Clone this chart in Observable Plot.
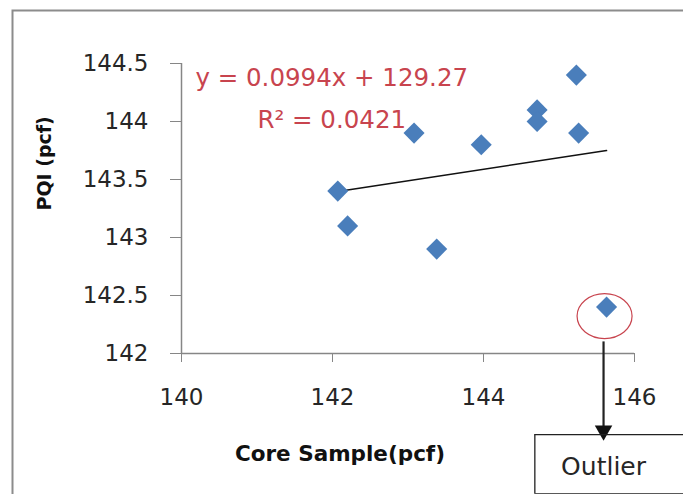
<!DOCTYPE html>
<html>
<head>
<meta charset="utf-8">
<script src="https://cdn.jsdelivr.net/npm/d3@7"></script>
<script src="https://cdn.jsdelivr.net/npm/@observablehq/plot@0.6"></script>
<style>
  html, body { margin: 0; padding: 0; background: #fff; overflow: hidden; }
  #chart { position: absolute; left: 0; top: 0; width: 683px; height: 494px; overflow: hidden; }
</style>
</head>
<body>
<div id="chart"></div>
<script>
// Data
const coreSample = [142.07, 142.2, 143.08, 143.38, 143.97, 144.71, 144.71, 145.23, 145.26, 145.63];
const pqi        = [143.4, 143.1, 143.9, 142.9, 143.8, 144.1, 144.0, 144.4, 143.9, 142.4];
const xTicks = [140, 142, 144, 146];
const yTicks = [142, 142.5, 143, 143.5, 144, 144.5];
const yTickLabels = ["142", "142.5", "143", "143.5", "144", "144.5"];
const equationLines = ["y = 0.0994x + 129.27", "R² = 0.0421"];
const equationY = [144.37, 144.01];
const equationX = [141.99, 141.99];
const xLabel = "Core Sample(pcf)";
const yLabel = "PQI (pcf)";
const outlierIndex = 9;
const outlierText = "Outlier";
// annotation anchors (data units)
const arrowY = [142.1, 141.36];
const arrowHeadY = [141.335];
const boxLeft = 144.68;
const boxRight = 147.2;
const boxTop = 141.3;
const boxBottom = 140.79;
const outlierLabelY = [141.02];

const points = coreSample.map((x, i) => ({x, y: pqi[i]}));
const outlier = points[outlierIndex];
const annX = outlier.x - 0.04;

const red = "#c8444e";
const blue = "#4a7ebb";
const axisGray = "#868686";
const font = "'DejaVu Sans', sans-serif";

const chart = Plot.plot({
  width: 683,
  height: 494,
  marginLeft: 181,
  marginRight: 49,
  marginTop: 63,
  marginBottom: 141,
  x: {domain: [140, 146]},
  y: {domain: [142, 144.5]},
  style: {fontFamily: font, background: "white", overflow: "hidden", color: "#262626"},
  marks: [
    Plot.ruleY([142], {x1: 140, x2: 146, stroke: axisGray, strokeWidth: 1.5}),
    Plot.ruleX([140], {y1: 142, y2: 144.5, stroke: axisGray, strokeWidth: 1.5}),
    Plot.axisX(xTicks, {tickSize: 9, tickPadding: 26, fontSize: 23, stroke: axisGray, fill: "#262626", label: null, tickFormat: d => String(d)}),
    Plot.axisY(yTicks, {tickSize: 11, tickPadding: 22, fontSize: 23, stroke: axisGray, fill: "#262626", label: null, tickFormat: d => yTickLabels[yTicks.indexOf(d)]}),
    Plot.linearRegressionY(points, {x: "x", y: "y", ci: 0, stroke: "#111", strokeWidth: 1.5}),
    Plot.dot(points, {x: "x", y: "y", symbol: "diamond2", r: 9.5, fill: blue, stroke: "none"}),
    Plot.text(equationLines, {x: (d, i) => equationX[i], y: (d, i) => equationY[i], text: d => d, fill: red, fontSize: 24.5, textAnchor: "middle"}),
    // outlier annotation
    Plot.dot([outlier], {x: "x", y: "y", r: 25, dx: -2, dy: 9, stroke: red, strokeWidth: 1.2, fill: "none"}),
    Plot.ruleX([annX], {y1: arrowY[0], y2: arrowY[1], stroke: "#222", strokeWidth: 2.2}),
    Plot.dot(arrowHeadY, {x: () => annX, y: d => d, symbol: "triangle", rotate: 180, r: 6.5, fill: "#111", stroke: "none"}),
    Plot.ruleX([boxLeft], {y1: boxTop, y2: boxBottom, stroke: "#222", strokeWidth: 1.3}),
    Plot.ruleY([boxTop, boxBottom], {x1: boxLeft, x2: boxRight, stroke: "#222", strokeWidth: 1.3}),
    Plot.text([outlierText], {x: annX, y: outlierLabelY[0], text: d => d, fontSize: 25, fill: "#262626"}),
    // axis titles
    Plot.text([yLabel], {frameAnchor: "left", dx: -137, dy: 2, rotate: -90, text: d => d, fontSize: 19, fontWeight: "bold", fill: "#111"}),
    Plot.text([xLabel], {frameAnchor: "bottom", dx: -68, dy: 107, text: d => d, fontSize: 21.5, fontWeight: "bold", fill: "#111"})
  ]
});

// outer chart-area border (left and top visible, the rest runs off the picture)
d3.select(chart).insert("rect", ":first-child")
  .attr("x", 12.5).attr("y", 10.5).attr("width", 900).attr("height", 900)
  .attr("fill", "none").attr("stroke", "#8c8c8c").attr("stroke-width", 2);

// turn the outlier circle into an ellipse
d3.select(chart).selectAll("circle").each(function() {
  const el = this;
  const r = +el.getAttribute("r");
  if (r === 25) {
    const cx = +el.getAttribute("cx") || 0, cy = +el.getAttribute("cy") || 0;
    el.setAttribute("transform", (el.getAttribute("transform") || "") + ` translate(${cx},${cy}) scale(1.1,0.9) translate(${-cx},${-cy})`);
    el.setAttribute("vector-effect", "non-scaling-stroke");
  }
});

document.getElementById("chart").appendChild(chart);
</script>
</body>
</html>
